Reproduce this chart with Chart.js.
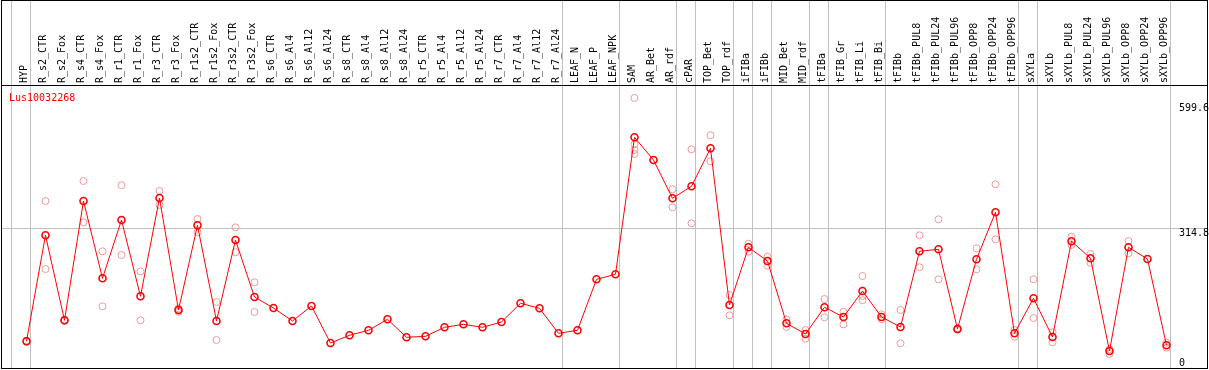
<!DOCTYPE html>
<html><head><meta charset="utf-8">
<script src="https://cdn.jsdelivr.net/npm/chart.js@4/dist/chart.umd.min.js"></script>
<style>html,body{margin:0;padding:0;background:#fff;overflow:hidden}</style>
</head><body>
<canvas id="c" width="1209" height="370"></canvas>
<script>
const geneName = 'Lus10032268';
const categories = ['HYP','R_s2_CTR','R_s2_Fox','R_s4_CTR','R_s4_Fox','R_r1_CTR','R_r1_Fox','R_r3_CTR','R_r3_Fox','R_r1s2_CTR','R_r1s2_Fox','R_r3s2_CTR','R_r3s2_Fox','R_s6_CTR','R_s6_Al4','R_s6_Al12','R_s6_Al24','R_s8_CTR','R_s8_Al4','R_s8_Al12','R_s8_Al24','R_r5_CTR','R_r5_Al4','R_r5_Al12','R_r5_Al24','R_r7_CTR','R_r7_Al4','R_r7_Al12','R_r7_Al24','LEAF_N','LEAF_P','LEAF_NPK','SAM','AR_Bet','AR_rdf','cPAR','TOP_Bet','TOP_rdf','iFIBa','iFIBb','MID_Bet','MID_rdf','tFIBa','tFIB_Gr','tFIB_Li','tFIB_Bi','tFIBb','tFIBb_PUL8','tFIBb_PUL24','tFIBb_PUL96','tFIBb_OPP8','tFIBb_OPP24','tFIBb_OPP96','sXYLa','sXYLb','sXYLb_PUL8','sXYLb_PUL24','sXYLb_PUL96','sXYLb_OPP8','sXYLb_OPP24','sXYLb_OPP96'];
const means = [57.4,298.9,105.2,377.0,200.9,333.7,159.9,383.8,128.7,321.7,103.7,288.2,158.3,133.3,103.7,137.8,53.5,71.1,82.5,107.5,66.5,68.8,89.3,96.1,89.3,101.4,144.0,132.6,75.6,82.5,198.6,210.0,522.1,470.4,383.2,410.5,497.1,140.1,271.5,240.3,98.4,74.0,134.9,112.8,172.0,112.8,90.0,262.4,267.0,85.4,244.2,351.3,75.6,155.4,67.2,285.2,246.5,35.3,271.5,244.9,48.3];
const replicates = [
  [59,56],[377,222],[104,106],[422.6,328.5],[262.4,137.1],[413.1,254],[216.9,105.2],[399.8,367.9],[124.8,132.6],[336,305.7],[146.9,60.4],[317.1,260.2],[191.8,124.2],
  [],[],[],[],[],[],[],[],[],[],[],[],[],[],[],[],[],[],[],
  [611.7,506.2,493.2,484.1],[],[403.7,362.7],[494.8,326.2],[526.7,467.5],[162.9,116.6],[279.7,261.5],[250.1,229.6],[107.5,90.0],[83.1,63.3],[153.8,112.1],[124.8,96.1],[206.2,160.6,150.8],[118.9,107.5],[128.7,52.9],
  [298.9,226.0],[335.3,198.6],[84,87],[269.3,221.4],[415.1,289.8],[83.1,67.9],[198.6,110.5],[77.9,55.1],[295.7,276.8],[256.3,235.8],[39.2,28.5],[285.9,257.9],[],[54.2,42.8]
];
const yTickValues = [0, 314.8, 599.6];
const yGridValues = [314.8];
const groupEnds = [-1, 0, 28, 31, 34, 35, 37, 38, 39, 41, 42, 45, 52, 53, 60];

const FONT = '10px "DejaVu Sans Mono", "Liberation Mono", monospace';

const framePlugin = {
  id: 'frame',
  beforeDraw(chart) {
    const ctx = chart.ctx, x = chart.scales.x, y = chart.scales.y, a = chart.chartArea;
    ctx.save();
    ctx.fillStyle = '#c0c0c0';
    groupEnds.forEach(g => {
      const px = Math.floor(x.getPixelForValue(g + 0.21));
      ctx.fillRect(px, 0, 1, a.bottom);
    });
    yGridValues.forEach(v => {
      const py = Math.floor(y.getPixelForValue(v));
      ctx.fillRect(a.left, py, a.right - a.left, 1);
    });
    ctx.restore();
  },
  afterDraw(chart) {
    const ctx = chart.ctx, y = chart.scales.y, a = chart.chartArea;
    ctx.save();
    ctx.strokeStyle = '#000';
    ctx.lineWidth = 1;
    ctx.strokeRect(1.5, 0.5, a.right - 1, a.bottom);
    ctx.beginPath();
    ctx.moveTo(1, a.top + 0.5); ctx.lineTo(a.right + 1, a.top + 0.5);
    ctx.stroke();
    ctx.font = FONT;
    ctx.textBaseline = 'alphabetic';
    ctx.textAlign = 'left';
    ctx.fillStyle = '#000';
    yTickValues.forEach(v => {
      const py = Math.min(y.getPixelForValue(v) + 7.5, 366);
      ctx.fillText(String(v), 1179, py);
    });
    ctx.fillStyle = '#ff0000';
    ctx.fillText(geneName, 9, 101);
    ctx.restore();
  }
};

new Chart(document.getElementById('c'), {
  type: 'line',
  data: {
    datasets: [
      {
        type: 'line',
        data: means.map((v, i) => ({x: i, y: v})),
        borderColor: '#ff0000',
        borderWidth: 1,
        pointRadius: 3.5,
        pointBorderWidth: 1.6,
        pointBorderColor: '#ff0000',
        pointBackgroundColor: 'rgba(0,0,0,0)',
        tension: 0,
        order: 0
      },
      {
        type: 'scatter',
        data: replicates.flatMap((arr, i) => arr.map(v => ({x: i, y: v}))),
        pointRadius: 3.5,
        pointBorderWidth: 1,
        pointBorderColor: '#ef9a9a',
        pointBackgroundColor: 'rgba(0,0,0,0)',
        showLine: false,
        order: 1
      }
    ]
  },
  options: {
    responsive: false,
    animation: false,
    devicePixelRatio: 1,
    layout: {autoPadding: false, padding: {left: 1, right: 2, top: 0, bottom: 2}},
    plugins: {legend: {display: false}, tooltip: {enabled: false}},
    scales: {
      x: {
        type: 'linear',
        position: 'top',
        min: -1.342,
        max: 62.132,
        afterBuildTicks: s => { s.ticks = categories.map((_, i) => ({value: i})); },
        afterFit: s => { s.height = 85; s.paddingLeft = 0; s.paddingRight = 0; },
        grid: {display: false, drawTicks: false},
        border: {display: false},
        ticks: {
          autoSkip: false,
          minRotation: 90,
          maxRotation: 90,
          padding: 2,
          labelOffset: 10,
          color: '#000',
          font: {family: '"DejaVu Sans Mono"', size: 10},
          callback: v => categories[v] !== undefined ? categories[v] : ''
        }
      },
      y: {type: 'linear', display: false, min: -3.42, max: 641.3}
    }
  },
  plugins: [framePlugin]
});
</script>
</body></html>
